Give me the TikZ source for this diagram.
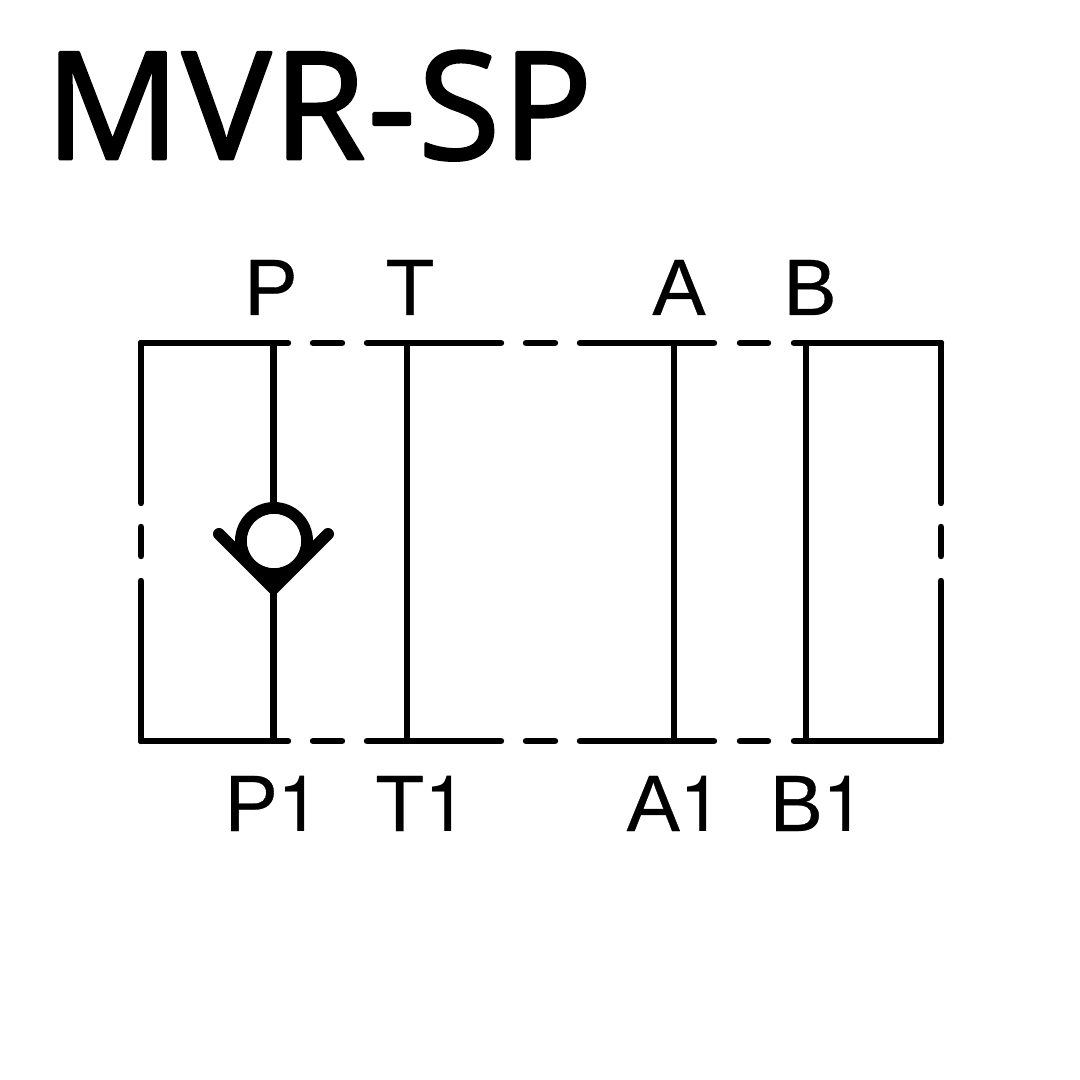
\documentclass[tikz,border=0pt]{standalone}
\usepackage{fontspec}
\setmainfont[FakeBold=0.4]{Liberation Sans}
\newfontfamily\titlefont[FakeBold=2,LetterSpace=1.5]{Open Sans}
\newfontfamily\digitfont{TeX Gyre Heros}
\newcommand{\one}{{\digitfont\fontsize{58.6}{60}\selectfont 1}}
\usetikzlibrary{positioning}

\begin{document}
\begin{tikzpicture}
	[x=.75pt,y=-.75pt,line cap=round,line join=round,line width=4.8pt,
	port/.style={font=\fontsize{60}{60}\selectfont,inner sep=0pt,anchor=base},
	title/.style={font=\titlefont\fontsize{112}{112}\selectfont,inner sep=0pt,anchor=base west}]
	\useasboundingbox (0,0) rectangle (1080,1080);
	
	\node[title] (name) at (42,159) {MVR-SP};
	
	\node[port] (P) at (271,315) {P};
	\node[port] (T) at (410,315) {T};
	\node[port] (A) at (679,315) {A};
	\node[port] (B) at (810,315) {B};
	\node[port] (P1) at (273,831) {P\one};
	\node[port] (T1) at (421.5,831) {T\one};
	\node[port] (A1) at (675,831) {A\one};
	\node[port] (B1) at (818,831) {B\one};
	
	% dashed housing
	\foreach \from/\to in
	{313/342, 367/501, 526/555, 580/714, 740/768}
	{
		\draw (\from,343) -- (\to,343);
		\draw (\from,741) -- (\to,741);
	}
	\foreach \y in {343,741}
	{
		\draw (141,\y) -- (288,\y);
		\draw (794,\y) -- (941,\y);
	}
	\foreach \x in {141,941}
	{
		\draw (\x,343) -- (\x,503);
		\draw (\x,527) -- (\x,556);
		\draw (\x,581) -- (\x,741);
	}
	
	% channels
	\coordinate (Pt) at (273.5,343);
	\coordinate (Pb) at (273.5,741);
	\coordinate (vt) at (273.5,505);
	\coordinate (vb) at (273.5,590);
	\coordinate (Tt) at (407,343);
	\coordinate (Tb) at (407,741);
	\coordinate (At) at (674,343);
	\coordinate (Ab) at (674,741);
	\coordinate (Bt) at (806,343);
	\coordinate (Bb) at (806,741);
	\foreach \from/\to in
	{Pt/vt, vb/Pb, Tt/Tb, At/Ab, Bt/Bb}
	\draw[line cap=butt] (\from) -- (\to);
	
	% check valve
	\fill (246,561) -- (274,589) -- (302,561) -- cycle;
	\draw[line width=9pt,miter limit=10,line join=miter] (219,534) -- (273.5,588.5) -- (328,534);
	\draw[line width=9pt,fill=white] (274,541) circle (33);
	\fill[white] (274,541) circle (27);
\end{tikzpicture}
\end{document}
